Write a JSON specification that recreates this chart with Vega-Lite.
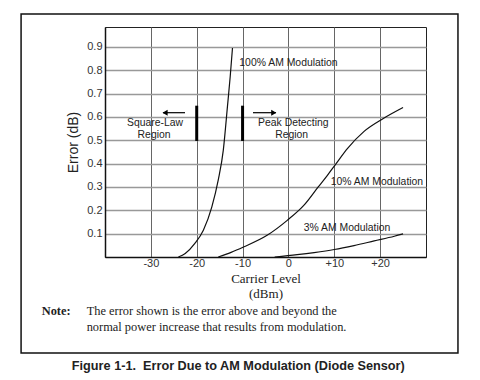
{
  "$schema": "https://vega.github.io/schema/vega-lite/v6.json",
  "width": 321,
  "height": 230,
  "autosize": {"type": "none"},
  "padding": {"left": 105, "top": 27, "right": 54, "bottom": 123},
  "background": "white",
  "config": {"view": {"stroke": "#222", "strokeWidth": 1}, "font": "Liberation Sans"},
  "datasets": {
    "curves": [
      {"series": "100%", "x": -24.0, "y": 0},
      {"series": "100%", "x": -22.5, "y": 0.015},
      {"series": "100%", "x": -20.4, "y": 0.058},
      {"series": "100%", "x": -18.55, "y": 0.115},
      {"series": "100%", "x": -16.7, "y": 0.215},
      {"series": "100%", "x": -15.3, "y": 0.33},
      {"series": "100%", "x": -14.2, "y": 0.458},
      {"series": "100%", "x": -13.3, "y": 0.644},
      {"series": "100%", "x": -12.7, "y": 0.772},
      {"series": "100%", "x": -12.2, "y": 0.895},
      {"series": "10%", "x": -15.3, "y": 0},
      {"series": "10%", "x": -12.5, "y": 0.02},
      {"series": "10%", "x": -9.8, "y": 0.043},
      {"series": "10%", "x": -4.65, "y": 0.093},
      {"series": "10%", "x": -0.26, "y": 0.157},
      {"series": "10%", "x": 3.4, "y": 0.222},
      {"series": "10%", "x": 6.5, "y": 0.3},
      {"series": "10%", "x": 8.5, "y": 0.35},
      {"series": "10%", "x": 10.4, "y": 0.4},
      {"series": "10%", "x": 12.9, "y": 0.465},
      {"series": "10%", "x": 16.5, "y": 0.538},
      {"series": "10%", "x": 20.6, "y": 0.592},
      {"series": "10%", "x": 25.0, "y": 0.64},
      {"series": "3%", "x": -3.0, "y": 0},
      {"series": "3%", "x": 1.9, "y": 0.01},
      {"series": "3%", "x": 5.6, "y": 0.019},
      {"series": "3%", "x": 10.0, "y": 0.032},
      {"series": "3%", "x": 14.3, "y": 0.049},
      {"series": "3%", "x": 18.7, "y": 0.069},
      {"series": "3%", "x": 23.1, "y": 0.089},
      {"series": "3%", "x": 25.0, "y": 0.099}
    ],
    "frame": [{"x": -58.3, "x2": 36.97, "y": 1.041, "y2": -0.411}],
    "bars": [
      {"x": -20, "y": 0.497, "y2": 0.648},
      {"x": -10, "y": 0.497, "y2": 0.648}
    ],
    "arrows": [
      {"x": -27.35, "x2": -22.55, "y": 0.618},
      {"x": -7.73, "x2": -2.71, "y": 0.618}
    ],
    "heads": [
      {"x": -26.9, "y": 0.618, "dir": "left"},
      {"x": -3.2, "y": 0.618, "dir": "right"}
    ],
    "labels": [
      {"x": 0.0, "y": 0.83, "text": "100% AM Modulation"},
      {"x": 19.3, "y": 0.322, "text": "10% AM Modulation"},
      {"x": 12.77, "y": 0.123, "text": "3% AM Modulation"},
      {"x": -29.1, "y": 0.575, "text": "Square-Law"},
      {"x": -29.3, "y": 0.522, "text": "Region"},
      {"x": 1.06, "y": 0.574, "text": "Peak Detecting"},
      {"x": 0.7, "y": 0.522, "text": "Region"}
    ],
    "note": [
      {"x": -53.8, "y": -0.23, "text": "Note:"}
    ],
    "notelines": [
      {"x": -44.0, "y": -0.23, "text": "The error shown is the error above and beyond the"},
      {"x": -44.0, "y": -0.2985, "text": "normal power increase that results from modulation."}
    ],
    "caption": [
      {"x": -10.93, "y": -0.4655, "text": "Figure 1-1.\u00a0 Error Due to AM Modulation (Diode Sensor)"}
    ]
  },
  "encoding": {
    "x": {
      "field": "x",
      "type": "quantitative",
      "scale": {"domain": [-40, 30], "nice": false, "zero": false},
      "axis": {
        "values": [-30, -20, -10, 0, 10, 20],
        "labelExpr": "datum.value > 0 ? '+' + datum.value : '' + datum.value",
        "title": ["Carrier Level", "(dBm)"],
        "titleFont": "Liberation Serif",
        "titleFontSize": 13,
        "titleFontWeight": "normal",
        "titleColor": "#222",
        "titlePadding": 4,
        "titleLineHeight": 15,
        "labelFont": "Liberation Sans",
        "labelFontSize": 11,
        "labelColor": "#333",
        "labelPadding": 0,
        "ticks": false,
        "domainColor": "#111",
        "domainWidth": 1.5,
        "grid": true,
        "gridColor": "#666",
        "gridWidth": 1,
        "gridOpacity": 1
      }
    },
    "y": {
      "field": "y",
      "type": "quantitative",
      "scale": {"domain": [0, 0.985], "nice": false, "zero": false},
      "axis": {
        "values": [0.1, 0.2, 0.3, 0.4, 0.5, 0.6, 0.7, 0.8, 0.9],
        "format": ".1f",
        "title": "Error (dB)",
        "titleFont": "Liberation Sans",
        "titleFontSize": 14,
        "titleFontWeight": "normal",
        "titleColor": "#222",
        "titlePadding": 6,
        "labelFont": "Liberation Sans",
        "labelFontSize": 11,
        "labelColor": "#333",
        "labelPadding": 3,
        "ticks": false,
        "domainColor": "#111",
        "domainWidth": 1.5,
        "grid": true,
        "gridColor": "#999",
        "gridWidth": 1.5,
        "gridOpacity": 1
      }
    }
  },
  "layer": [
    {
      "data": {"name": "frame"},
      "mark": {"type": "rect", "filled": false, "stroke": "#111", "strokeWidth": 1.5},
      "encoding": {"x2": {"field": "x2"}, "y2": {"field": "y2"}}
    },
    {
      "data": {"name": "curves"},
      "mark": {"type": "line", "color": "#111", "strokeWidth": 1.2, "interpolate": "monotone"},
      "encoding": {"detail": {"field": "series"}}
    },
    {
      "data": {"name": "bars"},
      "mark": {"type": "rule", "color": "#000", "strokeWidth": 3},
      "encoding": {"y2": {"field": "y2"}}
    },
    {
      "data": {"name": "arrows"},
      "mark": {"type": "rule", "color": "#000", "strokeWidth": 1.2},
      "encoding": {"x2": {"field": "x2"}}
    },
    {
      "data": {"name": "heads"},
      "mark": {"type": "point", "filled": true, "color": "#000", "size": 35, "opacity": 1},
      "encoding": {
        "shape": {"field": "dir", "type": "nominal", "scale": {"domain": ["left", "right"], "range": ["triangle-left", "triangle-right"]}, "legend": null}
      }
    },
    {
      "data": {"name": "labels"},
      "mark": {"type": "text", "font": "Liberation Sans", "fontSize": 10.4, "color": "#222", "align": "center", "baseline": "middle"},
      "encoding": {"text": {"field": "text"}}
    },
    {
      "data": {"name": "note"},
      "mark": {"type": "text", "font": "Liberation Serif", "fontSize": 12.4, "fontWeight": "bold", "color": "#222", "align": "left", "baseline": "middle"},
      "encoding": {"text": {"field": "text"}}
    },
    {
      "data": {"name": "notelines"},
      "mark": {"type": "text", "font": "Liberation Serif", "fontSize": 12.4, "color": "#222", "align": "left", "baseline": "middle"},
      "encoding": {"text": {"field": "text"}}
    },
    {
      "data": {"name": "caption"},
      "mark": {"type": "text", "font": "Liberation Sans", "fontSize": 12.7, "fontWeight": "bold", "color": "#222", "align": "center", "baseline": "middle"},
      "encoding": {"text": {"field": "text"}}
    }
  ]
}
